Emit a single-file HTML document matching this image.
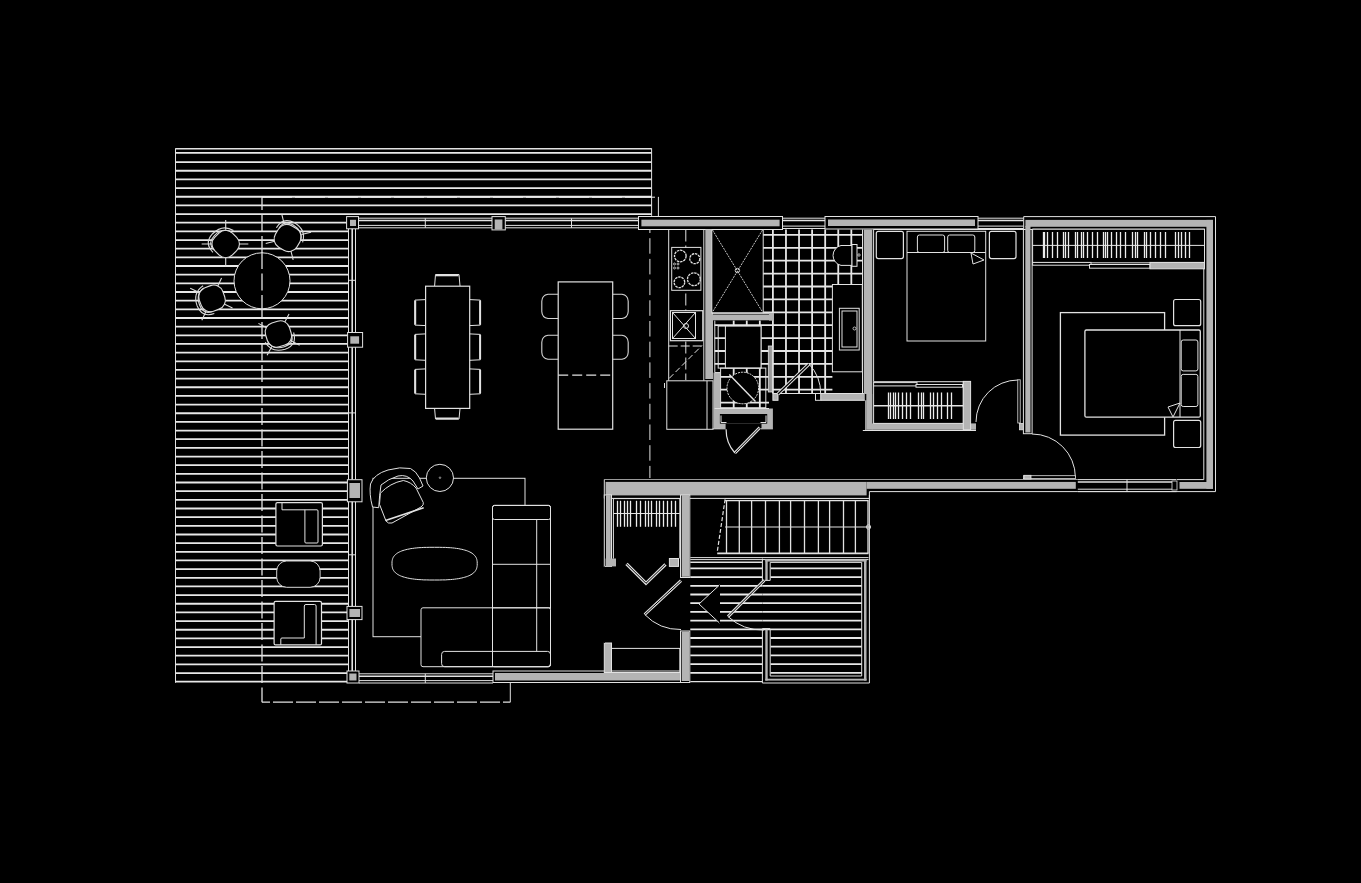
<!DOCTYPE html>
<html><head><meta charset="utf-8"><title>Floor plan</title>
<style>html,body{margin:0;padding:0;background:#000;overflow:hidden;width:1361px;height:883px}svg{display:block}</style>
</head><body>
<svg width="1361" height="883" viewBox="0 0 1361 883">
<rect x="0" y="0" width="1361" height="883" fill="#000"/>
<line x1="175.5" y1="148.3" x2="175.5" y2="682.8" stroke="#e2e2e2" stroke-width="1" stroke-linecap="butt"/>
<line x1="175.5" y1="148.8" x2="651.6" y2="148.8" stroke="#e2e2e2" stroke-width="1.5" stroke-linecap="butt"/>
<line x1="175.5" y1="152.9" x2="651.6" y2="152.9" stroke="#e8e8e8" stroke-width="1.8" stroke-linecap="butt"/>
<line x1="175.5" y1="162.1" x2="651.6" y2="162.1" stroke="#e8e8e8" stroke-width="1.8" stroke-linecap="butt"/>
<line x1="175.5" y1="170.76" x2="651.6" y2="170.76" stroke="#e8e8e8" stroke-width="1.8" stroke-linecap="butt"/>
<line x1="175.5" y1="179.42" x2="651.6" y2="179.42" stroke="#e8e8e8" stroke-width="1.8" stroke-linecap="butt"/>
<line x1="175.5" y1="188.08" x2="651.6" y2="188.08" stroke="#e8e8e8" stroke-width="1.8" stroke-linecap="butt"/>
<line x1="175.5" y1="196.74" x2="651.6" y2="196.74" stroke="#e8e8e8" stroke-width="1.8" stroke-linecap="butt"/>
<line x1="175.5" y1="205.4" x2="651.6" y2="205.4" stroke="#e8e8e8" stroke-width="1.8" stroke-linecap="butt"/>
<line x1="175.5" y1="214.06" x2="651.6" y2="214.06" stroke="#e8e8e8" stroke-width="1.8" stroke-linecap="butt"/>
<line x1="175.5" y1="222.72" x2="348.5" y2="222.72" stroke="#e8e8e8" stroke-width="1.8" stroke-linecap="butt"/>
<line x1="175.5" y1="231.38" x2="348.5" y2="231.38" stroke="#e8e8e8" stroke-width="1.8" stroke-linecap="butt"/>
<line x1="175.5" y1="240.04" x2="348.5" y2="240.04" stroke="#e8e8e8" stroke-width="1.8" stroke-linecap="butt"/>
<line x1="175.5" y1="248.7" x2="348.5" y2="248.7" stroke="#e8e8e8" stroke-width="1.8" stroke-linecap="butt"/>
<line x1="175.5" y1="257.36" x2="348.5" y2="257.36" stroke="#e8e8e8" stroke-width="1.8" stroke-linecap="butt"/>
<line x1="175.5" y1="266.02" x2="348.5" y2="266.02" stroke="#e8e8e8" stroke-width="1.8" stroke-linecap="butt"/>
<line x1="175.5" y1="274.68" x2="348.5" y2="274.68" stroke="#e8e8e8" stroke-width="1.8" stroke-linecap="butt"/>
<line x1="175.5" y1="283.34" x2="348.5" y2="283.34" stroke="#e8e8e8" stroke-width="1.8" stroke-linecap="butt"/>
<line x1="175.5" y1="292" x2="348.5" y2="292" stroke="#e8e8e8" stroke-width="1.8" stroke-linecap="butt"/>
<line x1="175.5" y1="300.66" x2="348.5" y2="300.66" stroke="#e8e8e8" stroke-width="1.8" stroke-linecap="butt"/>
<line x1="175.5" y1="309.32" x2="348.5" y2="309.32" stroke="#e8e8e8" stroke-width="1.8" stroke-linecap="butt"/>
<line x1="175.5" y1="317.98" x2="348.5" y2="317.98" stroke="#e8e8e8" stroke-width="1.8" stroke-linecap="butt"/>
<line x1="175.5" y1="326.64" x2="348.5" y2="326.64" stroke="#e8e8e8" stroke-width="1.8" stroke-linecap="butt"/>
<line x1="175.5" y1="335.3" x2="348.5" y2="335.3" stroke="#e8e8e8" stroke-width="1.8" stroke-linecap="butt"/>
<line x1="175.5" y1="343.96" x2="348.5" y2="343.96" stroke="#e8e8e8" stroke-width="1.8" stroke-linecap="butt"/>
<line x1="175.5" y1="352.62" x2="348.5" y2="352.62" stroke="#e8e8e8" stroke-width="1.8" stroke-linecap="butt"/>
<line x1="175.5" y1="361.28" x2="348.5" y2="361.28" stroke="#e8e8e8" stroke-width="1.8" stroke-linecap="butt"/>
<line x1="175.5" y1="369.94" x2="348.5" y2="369.94" stroke="#e8e8e8" stroke-width="1.8" stroke-linecap="butt"/>
<line x1="175.5" y1="378.6" x2="348.5" y2="378.6" stroke="#e8e8e8" stroke-width="1.8" stroke-linecap="butt"/>
<line x1="175.5" y1="387.26" x2="348.5" y2="387.26" stroke="#e8e8e8" stroke-width="1.8" stroke-linecap="butt"/>
<line x1="175.5" y1="395.92" x2="348.5" y2="395.92" stroke="#e8e8e8" stroke-width="1.8" stroke-linecap="butt"/>
<line x1="175.5" y1="404.58" x2="348.5" y2="404.58" stroke="#e8e8e8" stroke-width="1.8" stroke-linecap="butt"/>
<line x1="175.5" y1="413.24" x2="348.5" y2="413.24" stroke="#e8e8e8" stroke-width="1.8" stroke-linecap="butt"/>
<line x1="175.5" y1="421.9" x2="348.5" y2="421.9" stroke="#e8e8e8" stroke-width="1.8" stroke-linecap="butt"/>
<line x1="175.5" y1="430.56" x2="348.5" y2="430.56" stroke="#e8e8e8" stroke-width="1.8" stroke-linecap="butt"/>
<line x1="175.5" y1="439.22" x2="348.5" y2="439.22" stroke="#e8e8e8" stroke-width="1.8" stroke-linecap="butt"/>
<line x1="175.5" y1="447.88" x2="348.5" y2="447.88" stroke="#e8e8e8" stroke-width="1.8" stroke-linecap="butt"/>
<line x1="175.5" y1="456.54" x2="348.5" y2="456.54" stroke="#e8e8e8" stroke-width="1.8" stroke-linecap="butt"/>
<line x1="175.5" y1="465.2" x2="348.5" y2="465.2" stroke="#e8e8e8" stroke-width="1.8" stroke-linecap="butt"/>
<line x1="175.5" y1="473.86" x2="348.5" y2="473.86" stroke="#e8e8e8" stroke-width="1.8" stroke-linecap="butt"/>
<line x1="175.5" y1="482.52" x2="348.5" y2="482.52" stroke="#e8e8e8" stroke-width="1.8" stroke-linecap="butt"/>
<line x1="175.5" y1="491.18" x2="348.5" y2="491.18" stroke="#e8e8e8" stroke-width="1.8" stroke-linecap="butt"/>
<line x1="175.5" y1="499.84" x2="348.5" y2="499.84" stroke="#e8e8e8" stroke-width="1.8" stroke-linecap="butt"/>
<line x1="175.5" y1="508.5" x2="348.5" y2="508.5" stroke="#e8e8e8" stroke-width="1.8" stroke-linecap="butt"/>
<line x1="175.5" y1="517.16" x2="348.5" y2="517.16" stroke="#e8e8e8" stroke-width="1.8" stroke-linecap="butt"/>
<line x1="175.5" y1="525.82" x2="348.5" y2="525.82" stroke="#e8e8e8" stroke-width="1.8" stroke-linecap="butt"/>
<line x1="175.5" y1="534.48" x2="348.5" y2="534.48" stroke="#e8e8e8" stroke-width="1.8" stroke-linecap="butt"/>
<line x1="175.5" y1="543.14" x2="348.5" y2="543.14" stroke="#e8e8e8" stroke-width="1.8" stroke-linecap="butt"/>
<line x1="175.5" y1="551.8" x2="348.5" y2="551.8" stroke="#e8e8e8" stroke-width="1.8" stroke-linecap="butt"/>
<line x1="175.5" y1="560.46" x2="348.5" y2="560.46" stroke="#e8e8e8" stroke-width="1.8" stroke-linecap="butt"/>
<line x1="175.5" y1="569.12" x2="348.5" y2="569.12" stroke="#e8e8e8" stroke-width="1.8" stroke-linecap="butt"/>
<line x1="175.5" y1="577.78" x2="348.5" y2="577.78" stroke="#e8e8e8" stroke-width="1.8" stroke-linecap="butt"/>
<line x1="175.5" y1="586.44" x2="348.5" y2="586.44" stroke="#e8e8e8" stroke-width="1.8" stroke-linecap="butt"/>
<line x1="175.5" y1="595.1" x2="348.5" y2="595.1" stroke="#e8e8e8" stroke-width="1.8" stroke-linecap="butt"/>
<line x1="175.5" y1="603.76" x2="348.5" y2="603.76" stroke="#e8e8e8" stroke-width="1.8" stroke-linecap="butt"/>
<line x1="175.5" y1="612.42" x2="348.5" y2="612.42" stroke="#e8e8e8" stroke-width="1.8" stroke-linecap="butt"/>
<line x1="175.5" y1="621.08" x2="348.5" y2="621.08" stroke="#e8e8e8" stroke-width="1.8" stroke-linecap="butt"/>
<line x1="175.5" y1="629.74" x2="348.5" y2="629.74" stroke="#e8e8e8" stroke-width="1.8" stroke-linecap="butt"/>
<line x1="175.5" y1="638.4" x2="348.5" y2="638.4" stroke="#e8e8e8" stroke-width="1.8" stroke-linecap="butt"/>
<line x1="175.5" y1="647.06" x2="348.5" y2="647.06" stroke="#e8e8e8" stroke-width="1.8" stroke-linecap="butt"/>
<line x1="175.5" y1="655.72" x2="348.5" y2="655.72" stroke="#e8e8e8" stroke-width="1.8" stroke-linecap="butt"/>
<line x1="175.5" y1="664.38" x2="348.5" y2="664.38" stroke="#e8e8e8" stroke-width="1.8" stroke-linecap="butt"/>
<line x1="175.5" y1="673.04" x2="348.5" y2="673.04" stroke="#e8e8e8" stroke-width="1.8" stroke-linecap="butt"/>
<line x1="175.5" y1="681.7" x2="348.5" y2="681.7" stroke="#e8e8e8" stroke-width="1.8" stroke-linecap="butt"/>
<line x1="651.6" y1="148.3" x2="651.6" y2="215.8" stroke="#e2e2e2" stroke-width="1" stroke-linecap="butt"/>
<line x1="262" y1="197" x2="262" y2="702.2" stroke="#e2e2e2" stroke-width="1.3" stroke-dasharray="17 4.5" stroke-dashoffset="4" stroke-linecap="butt"/>
<line x1="262" y1="197.2" x2="658.4" y2="197.2" stroke="#f0f0f0" stroke-width="1" stroke-dasharray="30 3" stroke-linecap="butt"/>
<line x1="658.4" y1="197" x2="658.4" y2="216.5" stroke="#e2e2e2" stroke-width="1" stroke-linecap="butt"/>
<line x1="262" y1="702.2" x2="510.3" y2="702.2" stroke="#e2e2e2" stroke-width="1.2" stroke-dasharray="20 3" stroke-dashoffset="12" stroke-linecap="butt"/>
<line x1="510.3" y1="683" x2="510.3" y2="702.2" stroke="#e2e2e2" stroke-width="1" stroke-linecap="butt"/>
<rect x="346.6" y="216.6" width="11.9" height="12.2" fill="#000" stroke="#e2e2e2" stroke-width="1"/>
<rect x="350" y="219.8" width="6" height="6.2" fill="#b4b4b4"/>
<rect x="492" y="216.6" width="13.3" height="13.3" fill="#000" stroke="#e2e2e2" stroke-width="1"/>
<rect x="494.7" y="219.5" width="7.7" height="10" fill="#b4b4b4"/>
<line x1="358.5" y1="218.2" x2="492" y2="218.2" stroke="#e2e2e2" stroke-width="1" stroke-linecap="butt"/>
<line x1="358.5" y1="227.8" x2="492" y2="227.8" stroke="#e2e2e2" stroke-width="1" stroke-linecap="butt"/>
<line x1="358.5" y1="220.6" x2="492" y2="220.6" stroke="#e2e2e2" stroke-width="1.5" stroke-linecap="butt"/>
<line x1="358.5" y1="225.4" x2="492" y2="225.4" stroke="#e2e2e2" stroke-width="1" stroke-linecap="butt"/>
<line x1="425.3" y1="218.2" x2="425.3" y2="227.8" stroke="#e2e2e2" stroke-width="1" stroke-linecap="butt"/>
<line x1="505.3" y1="218.2" x2="638.5" y2="218.2" stroke="#e2e2e2" stroke-width="1" stroke-linecap="butt"/>
<line x1="505.3" y1="227.8" x2="638.5" y2="227.8" stroke="#e2e2e2" stroke-width="1" stroke-linecap="butt"/>
<line x1="505.3" y1="220.6" x2="638.5" y2="220.6" stroke="#e2e2e2" stroke-width="1.5" stroke-linecap="butt"/>
<line x1="505.3" y1="225.4" x2="638.5" y2="225.4" stroke="#e2e2e2" stroke-width="1" stroke-linecap="butt"/>
<line x1="571.5" y1="218.2" x2="571.5" y2="227.8" stroke="#e2e2e2" stroke-width="1" stroke-linecap="butt"/>
<rect x="638.5" y="216.5" width="144" height="13" fill="#000" stroke="#e2e2e2" stroke-width="1"/>
<rect x="641.4" y="219.7" width="138.2" height="6.6" fill="#b4b4b4"/>
<line x1="782.5" y1="218.2" x2="825" y2="218.2" stroke="#e2e2e2" stroke-width="1" stroke-linecap="butt"/>
<line x1="782.5" y1="228.5" x2="825" y2="228.5" stroke="#e2e2e2" stroke-width="1" stroke-linecap="butt"/>
<line x1="782.5" y1="220.6" x2="825" y2="220.6" stroke="#e2e2e2" stroke-width="1.5" stroke-linecap="butt"/>
<line x1="782.5" y1="226.1" x2="825" y2="226.1" stroke="#e2e2e2" stroke-width="1" stroke-linecap="butt"/>
<rect x="825" y="216.5" width="153" height="12.5" fill="#000" stroke="#e2e2e2" stroke-width="1"/>
<rect x="828" y="219.5" width="147" height="6.5" fill="#b4b4b4"/>
<line x1="978" y1="218.2" x2="1023.5" y2="218.2" stroke="#e2e2e2" stroke-width="1" stroke-linecap="butt"/>
<line x1="978" y1="228.5" x2="1023.5" y2="228.5" stroke="#e2e2e2" stroke-width="1" stroke-linecap="butt"/>
<line x1="978" y1="220.6" x2="1023.5" y2="220.6" stroke="#e2e2e2" stroke-width="1.5" stroke-linecap="butt"/>
<line x1="978" y1="226.1" x2="1023.5" y2="226.1" stroke="#e2e2e2" stroke-width="1" stroke-linecap="butt"/>
<line x1="1023.7" y1="216.6" x2="1215.5" y2="216.6" stroke="#e2e2e2" stroke-width="1" stroke-linecap="butt"/>
<line x1="1215.5" y1="216.6" x2="1215.5" y2="491.6" stroke="#e2e2e2" stroke-width="1" stroke-linecap="butt"/>
<line x1="1077.8" y1="491.6" x2="1215.5" y2="491.6" stroke="#e2e2e2" stroke-width="1" stroke-linecap="butt"/>
<line x1="1023.7" y1="216.6" x2="1023.7" y2="229.5" stroke="#e2e2e2" stroke-width="1" stroke-linecap="butt"/>
<rect x="1025.4" y="219.9" width="187.6" height="6.9" fill="#b4b4b4"/>
<rect x="1206.4" y="219.9" width="6.6" height="268.9" fill="#b4b4b4"/>
<line x1="1032.6" y1="229.2" x2="1204.5" y2="229.2" stroke="#e2e2e2" stroke-width="1" stroke-linecap="butt"/>
<line x1="1203.8" y1="229.2" x2="1203.8" y2="479.6" stroke="#e2e2e2" stroke-width="1" stroke-linecap="butt"/>
<line x1="348.5" y1="228.8" x2="348.5" y2="332.5" stroke="#e2e2e2" stroke-width="1" stroke-linecap="butt"/>
<line x1="355.5" y1="228.8" x2="355.5" y2="332.5" stroke="#e2e2e2" stroke-width="1" stroke-linecap="butt"/>
<line x1="352.2" y1="228.8" x2="352.2" y2="332.5" stroke="#e2e2e2" stroke-width="1.6" stroke-linecap="butt"/>
<line x1="348.5" y1="280.3" x2="355.5" y2="280.3" stroke="#e2e2e2" stroke-width="1" stroke-linecap="butt"/>
<rect x="347.6" y="332.5" width="15" height="14.7" fill="#000" stroke="#e2e2e2" stroke-width="1"/>
<rect x="350.3" y="336.3" width="8.8" height="7.4" fill="#b4b4b4"/>
<line x1="348.5" y1="347.2" x2="348.5" y2="479.7" stroke="#e2e2e2" stroke-width="1" stroke-linecap="butt"/>
<line x1="355.5" y1="347.2" x2="355.5" y2="479.7" stroke="#e2e2e2" stroke-width="1" stroke-linecap="butt"/>
<line x1="352.2" y1="347.2" x2="352.2" y2="479.7" stroke="#e2e2e2" stroke-width="1.6" stroke-linecap="butt"/>
<line x1="348.5" y1="412.9" x2="355.5" y2="412.9" stroke="#e2e2e2" stroke-width="1" stroke-linecap="butt"/>
<rect x="347.4" y="479.7" width="14.6" height="22.1" fill="#000" stroke="#e2e2e2" stroke-width="1"/>
<rect x="349.4" y="483" width="10.6" height="15" fill="#b4b4b4"/>
<line x1="348.5" y1="501.8" x2="348.5" y2="606.4" stroke="#e2e2e2" stroke-width="1" stroke-linecap="butt"/>
<line x1="355.5" y1="501.8" x2="355.5" y2="606.4" stroke="#e2e2e2" stroke-width="1" stroke-linecap="butt"/>
<line x1="352.2" y1="501.8" x2="352.2" y2="606.4" stroke="#e2e2e2" stroke-width="1.6" stroke-linecap="butt"/>
<line x1="348.5" y1="554.8" x2="355.5" y2="554.8" stroke="#e2e2e2" stroke-width="1" stroke-linecap="butt"/>
<rect x="347" y="606.4" width="15" height="13.2" fill="#000" stroke="#e2e2e2" stroke-width="1"/>
<rect x="349.4" y="609" width="10.6" height="8" fill="#b4b4b4"/>
<line x1="348.5" y1="619.6" x2="348.5" y2="671" stroke="#e2e2e2" stroke-width="1" stroke-linecap="butt"/>
<line x1="355.5" y1="619.6" x2="355.5" y2="671" stroke="#e2e2e2" stroke-width="1" stroke-linecap="butt"/>
<line x1="352.2" y1="619.6" x2="352.2" y2="671" stroke="#e2e2e2" stroke-width="1.6" stroke-linecap="butt"/>
<rect x="347" y="671" width="12" height="12" fill="#000" stroke="#e2e2e2" stroke-width="1"/>
<rect x="349.3" y="673.5" width="7.2" height="7" fill="#b4b4b4"/>
<line x1="359" y1="673.8" x2="493" y2="673.8" stroke="#e2e2e2" stroke-width="1" stroke-linecap="butt"/>
<line x1="359" y1="683" x2="493" y2="683" stroke="#e2e2e2" stroke-width="1" stroke-linecap="butt"/>
<line x1="359" y1="676.2" x2="493" y2="676.2" stroke="#e2e2e2" stroke-width="1.5" stroke-linecap="butt"/>
<line x1="359" y1="680.6" x2="493" y2="680.6" stroke="#e2e2e2" stroke-width="1" stroke-linecap="butt"/>
<line x1="425.3" y1="673.8" x2="425.3" y2="683" stroke="#e2e2e2" stroke-width="1" stroke-linecap="butt"/>
<rect x="493" y="671" width="196" height="11.5" fill="#000" stroke="#e2e2e2" stroke-width="1"/>
<rect x="495" y="673" width="192" height="7.5" fill="#b4b4b4"/>
<line x1="604.3" y1="479.5" x2="1077.8" y2="479.5" stroke="#9a9a9a" stroke-width="1" stroke-linecap="butt"/>
<rect x="605.6" y="481.9" width="261" height="13.5" fill="#b4b4b4"/>
<rect x="866.6" y="481.9" width="209.2" height="6.9" fill="#b4b4b4"/>
<line x1="604.3" y1="479.5" x2="604.3" y2="498.4" stroke="#e2e2e2" stroke-width="1" stroke-linecap="butt"/>
<line x1="604.3" y1="498.4" x2="869.4" y2="498.4" stroke="#e2e2e2" stroke-width="1" stroke-linecap="butt"/>
<line x1="869.4" y1="491.6" x2="869.4" y2="498.4" stroke="#e2e2e2" stroke-width="1" stroke-linecap="butt"/>
<line x1="869.4" y1="491.6" x2="1077.8" y2="491.6" stroke="#e2e2e2" stroke-width="1" stroke-linecap="butt"/>
<line x1="1077.8" y1="479.6" x2="1176.5" y2="479.6" stroke="#e2e2e2" stroke-width="1" stroke-linecap="butt"/>
<line x1="1077.8" y1="491.6" x2="1176.5" y2="491.6" stroke="#e2e2e2" stroke-width="1" stroke-linecap="butt"/>
<line x1="1077.8" y1="482" x2="1176.5" y2="482" stroke="#e2e2e2" stroke-width="1.5" stroke-linecap="butt"/>
<line x1="1077.8" y1="489.2" x2="1176.5" y2="489.2" stroke="#e2e2e2" stroke-width="1" stroke-linecap="butt"/>
<line x1="1127" y1="479.6" x2="1127" y2="491.6" stroke="#e2e2e2" stroke-width="1" stroke-linecap="butt"/>
<rect x="1179.5" y="482" width="33.5" height="6.8" fill="#b4b4b4"/>
<line x1="1177" y1="479.6" x2="1203.8" y2="479.6" stroke="#e2e2e2" stroke-width="1" stroke-linecap="butt"/>
<rect x="1172" y="481" width="5" height="9" fill="#000" stroke="#e2e2e2" stroke-width="0.8"/>
<rect x="604.3" y="495" width="7.2" height="71.4" fill="#000" stroke="#e2e2e2" stroke-width="1"/>
<rect x="606" y="495" width="4.8" height="70" fill="#b4b4b4"/>
<rect x="605.6" y="558.5" width="10.4" height="7.9" fill="#b4b4b4"/>
<rect x="680.5" y="495" width="9.3" height="82.5" fill="#000" stroke="#e2e2e2" stroke-width="1"/>
<rect x="681.7" y="495" width="7.3" height="81.8" fill="#b4b4b4"/>
<rect x="669.4" y="558.5" width="9.1" height="7.9" fill="#b4b4b4" stroke="#e2e2e2" stroke-width="1"/>
<line x1="613.4" y1="498.6" x2="679.8" y2="498.6" stroke="#e2e2e2" stroke-width="1" stroke-linecap="butt"/>
<line x1="613.4" y1="498.6" x2="613.4" y2="558.5" stroke="#e2e2e2" stroke-width="1" stroke-linecap="butt"/>
<line x1="679.8" y1="498.6" x2="679.8" y2="558.5" stroke="#e2e2e2" stroke-width="1" stroke-linecap="butt"/>
<line x1="613.4" y1="513.5" x2="679.8" y2="513.5" stroke="#e2e2e2" stroke-width="1" stroke-linecap="butt"/>
<line x1="617.5" y1="500.8" x2="617.5" y2="526.8" stroke="#ececec" stroke-width="1.3" stroke-linecap="butt"/>
<line x1="620.5" y1="500.8" x2="620.5" y2="526.8" stroke="#ececec" stroke-width="1.3" stroke-linecap="butt"/>
<line x1="624.5" y1="500.8" x2="624.5" y2="526.8" stroke="#ececec" stroke-width="1.3" stroke-linecap="butt"/>
<line x1="627.5" y1="500.8" x2="627.5" y2="526.8" stroke="#ececec" stroke-width="1.3" stroke-linecap="butt"/>
<line x1="630.5" y1="500.8" x2="630.5" y2="526.8" stroke="#ececec" stroke-width="1.3" stroke-linecap="butt"/>
<line x1="636.5" y1="500.8" x2="636.5" y2="526.8" stroke="#ececec" stroke-width="1.3" stroke-linecap="butt"/>
<line x1="640.5" y1="500.8" x2="640.5" y2="526.8" stroke="#ececec" stroke-width="1.3" stroke-linecap="butt"/>
<line x1="645.5" y1="500.8" x2="645.5" y2="526.8" stroke="#ececec" stroke-width="1.3" stroke-linecap="butt"/>
<line x1="648.5" y1="500.8" x2="648.5" y2="526.8" stroke="#ececec" stroke-width="1.3" stroke-linecap="butt"/>
<line x1="651.5" y1="500.8" x2="651.5" y2="526.8" stroke="#ececec" stroke-width="1.3" stroke-linecap="butt"/>
<line x1="656.5" y1="500.8" x2="656.5" y2="526.8" stroke="#ececec" stroke-width="1.3" stroke-linecap="butt"/>
<line x1="659.5" y1="500.8" x2="659.5" y2="526.8" stroke="#ececec" stroke-width="1.3" stroke-linecap="butt"/>
<line x1="663.5" y1="500.8" x2="663.5" y2="526.8" stroke="#ececec" stroke-width="1.3" stroke-linecap="butt"/>
<line x1="667.5" y1="500.8" x2="667.5" y2="526.8" stroke="#ececec" stroke-width="1.3" stroke-linecap="butt"/>
<line x1="671.5" y1="500.8" x2="671.5" y2="526.8" stroke="#ececec" stroke-width="1.3" stroke-linecap="butt"/>
<line x1="675.5" y1="500.8" x2="675.5" y2="526.8" stroke="#ececec" stroke-width="1.3" stroke-linecap="butt"/>
<path d="M626.5,563.8 L646,583.3 L665.5,564.3" stroke="#e2e2e2" stroke-width="3.2" fill="none" />
<path d="M626.5,563.8 L646,583.3 L665.5,564.3" stroke="#000" stroke-width="1" fill="none" />
<rect x="680.5" y="631" width="9.3" height="51.5" fill="#000" stroke="#e2e2e2" stroke-width="1"/>
<rect x="681.7" y="631.5" width="7.3" height="49.5" fill="#b4b4b4"/>
<path d="M681,580.7 L644.7,614.5" stroke="#e2e2e2" stroke-width="3" fill="none" />
<path d="M681,580.7 L644.7,614.5" stroke="#000" stroke-width="1" fill="none" />
<path d="M644.7,614.5 A49 49 0 0 0 681,629.5" stroke="#e2e2e2" stroke-width="1" fill="none" />
<rect x="604.3" y="643" width="7.2" height="29.5" fill="#b4b4b4" stroke="#e2e2e2" stroke-width="1"/>
<rect x="611.5" y="648.4" width="68.3" height="24.1" fill="none" stroke="#e2e2e2" stroke-width="1"/>
<line x1="604.3" y1="566.4" x2="604.3" y2="643" stroke="#000" stroke-width="1" stroke-linecap="butt"/>
<line x1="725.1" y1="498.6" x2="868.5" y2="498.6" stroke="#e2e2e2" stroke-width="0.8" stroke-linecap="butt"/>
<line x1="725.1" y1="500.6" x2="868.5" y2="500.6" stroke="#e2e2e2" stroke-width="1.4" stroke-linecap="butt"/>
<line x1="725.1" y1="527" x2="871" y2="527" stroke="#e2e2e2" stroke-width="1.2" stroke-linecap="butt"/>
<line x1="717.2" y1="553.4" x2="868.5" y2="553.4" stroke="#e2e2e2" stroke-width="1.6" stroke-linecap="butt"/>
<line x1="690.3" y1="557.6" x2="868.5" y2="557.6" stroke="#e2e2e2" stroke-width="1" stroke-linecap="butt"/>
<line x1="690.3" y1="559.6" x2="868.5" y2="559.6" stroke="#e2e2e2" stroke-width="1" stroke-linecap="butt"/>
<line x1="726.5" y1="500.6" x2="726.5" y2="553.4" stroke="#e2e2e2" stroke-width="1.3" stroke-linecap="butt"/>
<line x1="739.3" y1="500.6" x2="739.3" y2="553.4" stroke="#e2e2e2" stroke-width="1.3" stroke-linecap="butt"/>
<line x1="751.6" y1="500.6" x2="751.6" y2="553.4" stroke="#e2e2e2" stroke-width="1.3" stroke-linecap="butt"/>
<line x1="765.5" y1="500.6" x2="765.5" y2="553.4" stroke="#e2e2e2" stroke-width="1.3" stroke-linecap="butt"/>
<line x1="779.4" y1="500.6" x2="779.4" y2="553.4" stroke="#e2e2e2" stroke-width="1.3" stroke-linecap="butt"/>
<line x1="790.6" y1="500.6" x2="790.6" y2="553.4" stroke="#e2e2e2" stroke-width="1.3" stroke-linecap="butt"/>
<line x1="804.5" y1="500.6" x2="804.5" y2="553.4" stroke="#e2e2e2" stroke-width="1.3" stroke-linecap="butt"/>
<line x1="818.4" y1="500.6" x2="818.4" y2="553.4" stroke="#e2e2e2" stroke-width="1.3" stroke-linecap="butt"/>
<line x1="829.6" y1="500.6" x2="829.6" y2="553.4" stroke="#e2e2e2" stroke-width="1.3" stroke-linecap="butt"/>
<line x1="843.5" y1="500.6" x2="843.5" y2="553.4" stroke="#e2e2e2" stroke-width="1.3" stroke-linecap="butt"/>
<line x1="855.4" y1="500.6" x2="855.4" y2="553.4" stroke="#e2e2e2" stroke-width="1.3" stroke-linecap="butt"/>
<line x1="868" y1="500.6" x2="868" y2="553.4" stroke="#e2e2e2" stroke-width="1.3" stroke-linecap="butt"/>
<path d="M725.1,499.3 L717.2,552.2" stroke="#e2e2e2" stroke-width="1.2" fill="none" stroke-dasharray="4 2" />
<circle cx="868.5" cy="527" r="2.2" stroke="#e2e2e2" stroke-width="0.8" fill="none"/>
<line x1="690.3" y1="568.4" x2="762.4" y2="568.4" stroke="#e8e8e8" stroke-width="1.8" stroke-linecap="butt"/>
<line x1="770.5" y1="568.4" x2="861.7" y2="568.4" stroke="#e8e8e8" stroke-width="1.8" stroke-linecap="butt"/>
<line x1="690.3" y1="577.1" x2="762.4" y2="577.1" stroke="#e8e8e8" stroke-width="1.8" stroke-linecap="butt"/>
<line x1="770.5" y1="577.1" x2="861.7" y2="577.1" stroke="#e8e8e8" stroke-width="1.8" stroke-linecap="butt"/>
<line x1="690.3" y1="585.8" x2="762.4" y2="585.8" stroke="#e8e8e8" stroke-width="1.8" stroke-linecap="butt"/>
<line x1="762.4" y1="585.8" x2="861.7" y2="585.8" stroke="#e8e8e8" stroke-width="1.8" stroke-linecap="butt"/>
<line x1="690.3" y1="594.5" x2="762.4" y2="594.5" stroke="#e8e8e8" stroke-width="1.8" stroke-linecap="butt"/>
<line x1="762.4" y1="594.5" x2="861.7" y2="594.5" stroke="#e8e8e8" stroke-width="1.8" stroke-linecap="butt"/>
<line x1="690.3" y1="603.2" x2="762.4" y2="603.2" stroke="#e8e8e8" stroke-width="1.8" stroke-linecap="butt"/>
<line x1="762.4" y1="603.2" x2="861.7" y2="603.2" stroke="#e8e8e8" stroke-width="1.8" stroke-linecap="butt"/>
<line x1="690.3" y1="611.9" x2="762.4" y2="611.9" stroke="#e8e8e8" stroke-width="1.8" stroke-linecap="butt"/>
<line x1="762.4" y1="611.9" x2="861.7" y2="611.9" stroke="#e8e8e8" stroke-width="1.8" stroke-linecap="butt"/>
<line x1="690.3" y1="620.6" x2="762.4" y2="620.6" stroke="#e8e8e8" stroke-width="1.8" stroke-linecap="butt"/>
<line x1="762.4" y1="620.6" x2="861.7" y2="620.6" stroke="#e8e8e8" stroke-width="1.8" stroke-linecap="butt"/>
<line x1="690.3" y1="629.3" x2="762.4" y2="629.3" stroke="#e8e8e8" stroke-width="1.8" stroke-linecap="butt"/>
<line x1="762.4" y1="629.3" x2="861.7" y2="629.3" stroke="#e8e8e8" stroke-width="1.8" stroke-linecap="butt"/>
<line x1="690.3" y1="638" x2="762.4" y2="638" stroke="#e8e8e8" stroke-width="1.8" stroke-linecap="butt"/>
<line x1="770.5" y1="638" x2="861.7" y2="638" stroke="#e8e8e8" stroke-width="1.8" stroke-linecap="butt"/>
<line x1="690.3" y1="646.7" x2="762.4" y2="646.7" stroke="#e8e8e8" stroke-width="1.8" stroke-linecap="butt"/>
<line x1="770.5" y1="646.7" x2="861.7" y2="646.7" stroke="#e8e8e8" stroke-width="1.8" stroke-linecap="butt"/>
<line x1="690.3" y1="655.4" x2="762.4" y2="655.4" stroke="#e8e8e8" stroke-width="1.8" stroke-linecap="butt"/>
<line x1="770.5" y1="655.4" x2="861.7" y2="655.4" stroke="#e8e8e8" stroke-width="1.8" stroke-linecap="butt"/>
<line x1="690.3" y1="664.1" x2="762.4" y2="664.1" stroke="#e8e8e8" stroke-width="1.8" stroke-linecap="butt"/>
<line x1="770.5" y1="664.1" x2="861.7" y2="664.1" stroke="#e8e8e8" stroke-width="1.8" stroke-linecap="butt"/>
<line x1="690.3" y1="672.8" x2="762.4" y2="672.8" stroke="#e8e8e8" stroke-width="1.8" stroke-linecap="butt"/>
<line x1="770.5" y1="672.8" x2="861.7" y2="672.8" stroke="#e8e8e8" stroke-width="1.8" stroke-linecap="butt"/>
<line x1="690.3" y1="562.3" x2="762.4" y2="562.3" stroke="#e2e2e2" stroke-width="1.4" stroke-linecap="butt"/>
<line x1="690.3" y1="681.6" x2="762.4" y2="681.6" stroke="#e2e2e2" stroke-width="1.4" stroke-linecap="butt"/>
<path d="M762.4,558.6 V580.4 M762.4,628.6 V683 H869.4 V495" stroke="#e2e2e2" stroke-width="1" fill="none" />
<rect x="765.3" y="559.5" width="2.4" height="20.9" fill="#b4b4b4"/>
<rect x="765.3" y="629.6" width="2.4" height="51" fill="#b4b4b4"/>
<rect x="765.3" y="678.7" width="101.2" height="1.9" fill="#b4b4b4"/>
<rect x="864" y="559.5" width="2.5" height="121.1" fill="#b4b4b4"/>
<rect x="765.3" y="559.8" width="101.2" height="1.8" fill="#b4b4b4"/>
<path d="M770.2,580.4 V562.4 H861.7 V676 H770.2 V629" stroke="#e2e2e2" stroke-width="1" fill="none" />
<path d="M762.4,580.4 H770.2 M762.4,628.6 H770.2" stroke="#e2e2e2" stroke-width="1" fill="none" />
<path d="M764.3,580.4 L728,616.6" stroke="#e2e2e2" stroke-width="3" fill="none" />
<path d="M764.3,580.4 L728,616.6" stroke="#000" stroke-width="1" fill="none" />
<path d="M728,616.6 A51 51 0 0 0 764,630" stroke="#e2e2e2" stroke-width="1" fill="none" />
<path d="M719.5,585 L699,604 L719.5,623 Z" stroke="none" stroke-width="1" fill="#000" />
<path d="M719.5,585 L699,604 L719.5,623" stroke="#e2e2e2" stroke-width="1" fill="none" />
<line x1="719.5" y1="585" x2="719.5" y2="623" stroke="#000" stroke-width="1" stroke-linecap="butt"/>
<line x1="649.9" y1="229.5" x2="649.9" y2="478" stroke="#e2e2e2" stroke-width="1" stroke-dasharray="15.5 5.2" stroke-dashoffset="12" stroke-linecap="butt"/>
<line x1="668.7" y1="229.5" x2="668.7" y2="380.8" stroke="#e2e2e2" stroke-width="1" stroke-linecap="butt"/>
<line x1="685.8" y1="229.5" x2="685.8" y2="380" stroke="#e2e2e2" stroke-width="1" stroke-dasharray="12 4" stroke-linecap="butt"/>
<line x1="703.8" y1="229.5" x2="703.8" y2="380.8" stroke="#e2e2e2" stroke-width="1" stroke-linecap="butt"/>
<rect x="705.3" y="229.5" width="7.7" height="149.5" fill="#b4b4b4"/>
<rect x="671.7" y="247.4" width="29.2" height="42.9" fill="#000" stroke="#e2e2e2" stroke-width="1"/>
<circle cx="680.3" cy="256" r="5.8" stroke="#e2e2e2" stroke-width="1.3" fill="none" stroke-dasharray="2.5 0.8"/>
<circle cx="694.8" cy="258.7" r="5" stroke="#e2e2e2" stroke-width="1.3" fill="none" stroke-dasharray="2.5 0.8"/>
<circle cx="679.4" cy="282.3" r="5.3" stroke="#e2e2e2" stroke-width="1.3" fill="none" stroke-dasharray="2.5 0.8"/>
<circle cx="693.9" cy="279.2" r="6.4" stroke="#e2e2e2" stroke-width="1.3" fill="none" stroke-dasharray="2.5 0.8"/>
<circle cx="674.5" cy="264" r="1" stroke="#e2e2e2" stroke-width="0.8" fill="none"/>
<circle cx="678" cy="264" r="1" stroke="#e2e2e2" stroke-width="0.8" fill="none"/>
<circle cx="674.5" cy="268" r="1" stroke="#e2e2e2" stroke-width="0.8" fill="none"/>
<circle cx="678" cy="268" r="1" stroke="#e2e2e2" stroke-width="0.8" fill="none"/>
<rect x="670.4" y="310.7" width="32.4" height="30" fill="#000" stroke="#e2e2e2" stroke-width="1.2"/>
<rect x="672.5" y="312.5" width="23" height="26" fill="none" stroke="#e2e2e2" stroke-width="1"/>
<line x1="672.5" y1="312.5" x2="695.5" y2="338.5" stroke="#e2e2e2" stroke-width="1" stroke-linecap="butt"/>
<line x1="695.5" y1="312.5" x2="672.5" y2="338.5" stroke="#e2e2e2" stroke-width="1" stroke-linecap="butt"/>
<circle cx="686" cy="326" r="2.5" stroke="#e2e2e2" stroke-width="1" fill="none"/>
<line x1="668.7" y1="346" x2="702.8" y2="346" stroke="#e2e2e2" stroke-width="1" stroke-dasharray="9 3" stroke-linecap="butt"/>
<line x1="669.2" y1="378.4" x2="702" y2="345.5" stroke="#e2e2e2" stroke-width="1" stroke-dasharray="6 3" stroke-linecap="butt"/>
<rect x="666.8" y="380.8" width="46.2" height="48.5" fill="#000" stroke="#e2e2e2" stroke-width="1"/>
<line x1="707" y1="380.8" x2="707" y2="429.3" stroke="#e2e2e2" stroke-width="1" stroke-linecap="butt"/>
<line x1="664.5" y1="383" x2="664.5" y2="388" stroke="#e2e2e2" stroke-width="1" stroke-linecap="butt"/>
<rect x="711.8" y="229.5" width="51.4" height="83.3" fill="#000" stroke="#e2e2e2" stroke-width="1"/>
<line x1="712.5" y1="230" x2="762.5" y2="312" stroke="#d8d8d8" stroke-width="0.9" stroke-dasharray="2 1" stroke-linecap="butt"/>
<line x1="762.5" y1="230" x2="712.5" y2="312" stroke="#d8d8d8" stroke-width="0.9" stroke-dasharray="2 1" stroke-linecap="butt"/>
<circle cx="737.4" cy="270.5" r="2.2" stroke="#e2e2e2" stroke-width="0.9" fill="none"/>
<rect x="711.8" y="314.5" width="60.9" height="5.8" fill="#b4b4b4"/>
<line x1="711.8" y1="313.3" x2="772.7" y2="313.3" stroke="#e2e2e2" stroke-width="1" stroke-linecap="butt"/>
<line x1="733.69" y1="320.6" x2="733.69" y2="408.5" stroke="#e6e6e6" stroke-width="1.8" stroke-linecap="butt"/>
<line x1="746.76" y1="320.6" x2="746.76" y2="408.5" stroke="#e6e6e6" stroke-width="1.8" stroke-linecap="butt"/>
<line x1="759.83" y1="320.6" x2="759.83" y2="408.5" stroke="#e6e6e6" stroke-width="1.8" stroke-linecap="butt"/>
<line x1="772.9" y1="229.5" x2="772.9" y2="393.5" stroke="#e6e6e6" stroke-width="1.8" stroke-linecap="butt"/>
<line x1="785.97" y1="229.5" x2="785.97" y2="393.5" stroke="#e6e6e6" stroke-width="1.8" stroke-linecap="butt"/>
<line x1="799.04" y1="229.5" x2="799.04" y2="393.5" stroke="#e6e6e6" stroke-width="1.8" stroke-linecap="butt"/>
<line x1="812.11" y1="229.5" x2="812.11" y2="393.5" stroke="#e6e6e6" stroke-width="1.8" stroke-linecap="butt"/>
<line x1="825.18" y1="229.5" x2="825.18" y2="393.5" stroke="#e6e6e6" stroke-width="1.8" stroke-linecap="butt"/>
<line x1="838.25" y1="229.5" x2="838.25" y2="285" stroke="#e6e6e6" stroke-width="1.8" stroke-linecap="butt"/>
<line x1="851.32" y1="229.5" x2="851.32" y2="285" stroke="#e6e6e6" stroke-width="1.8" stroke-linecap="butt"/>
<line x1="763.2" y1="234.9" x2="862.5" y2="234.9" stroke="#e6e6e6" stroke-width="1.8" stroke-linecap="butt"/>
<line x1="763.2" y1="247.8" x2="862.5" y2="247.8" stroke="#e6e6e6" stroke-width="1.8" stroke-linecap="butt"/>
<line x1="763.2" y1="260.7" x2="862.5" y2="260.7" stroke="#e6e6e6" stroke-width="1.8" stroke-linecap="butt"/>
<line x1="763.2" y1="273.6" x2="862.5" y2="273.6" stroke="#e6e6e6" stroke-width="1.8" stroke-linecap="butt"/>
<line x1="763.2" y1="286.5" x2="832.4" y2="286.5" stroke="#e6e6e6" stroke-width="1.8" stroke-linecap="butt"/>
<line x1="763.2" y1="299.4" x2="832.4" y2="299.4" stroke="#e6e6e6" stroke-width="1.8" stroke-linecap="butt"/>
<line x1="763.2" y1="312.3" x2="832.4" y2="312.3" stroke="#e6e6e6" stroke-width="1.8" stroke-linecap="butt"/>
<line x1="714.6" y1="325.2" x2="832.4" y2="325.2" stroke="#e6e6e6" stroke-width="1.8" stroke-linecap="butt"/>
<line x1="714.6" y1="338.1" x2="832.4" y2="338.1" stroke="#e6e6e6" stroke-width="1.8" stroke-linecap="butt"/>
<line x1="714.6" y1="351" x2="832.4" y2="351" stroke="#e6e6e6" stroke-width="1.8" stroke-linecap="butt"/>
<line x1="714.6" y1="363.9" x2="832.4" y2="363.9" stroke="#e6e6e6" stroke-width="1.8" stroke-linecap="butt"/>
<line x1="720.4" y1="376.8" x2="832.4" y2="376.8" stroke="#e6e6e6" stroke-width="1.8" stroke-linecap="butt"/>
<line x1="720.4" y1="389.7" x2="832.4" y2="389.7" stroke="#e6e6e6" stroke-width="1.8" stroke-linecap="butt"/>
<line x1="720.4" y1="402.6" x2="769" y2="402.6" stroke="#e6e6e6" stroke-width="1.8" stroke-linecap="butt"/>
<rect x="713.5" y="372.6" width="6.9" height="55.8" fill="#b4b4b4"/>
<line x1="714.8" y1="320.6" x2="714.8" y2="372.6" stroke="#e2e2e2" stroke-width="1" stroke-linecap="butt"/>
<line x1="714.8" y1="372.6" x2="720.2" y2="372.6" stroke="#e2e2e2" stroke-width="1" stroke-linecap="butt"/>
<rect x="718.2" y="326.1" width="42.8" height="42" fill="none" stroke="#e2e2e2" stroke-width="1"/>
<rect x="725.4" y="326.1" width="35.6" height="42" fill="#000" stroke="#e2e2e2" stroke-width="1"/>
<rect x="720.6" y="368.1" width="45.2" height="39.6" fill="none" stroke="#e2e2e2" stroke-width="1"/>
<circle cx="742.8" cy="388" r="15.8" stroke="#e2e2e2" stroke-width="1" fill="#000" stroke-dasharray="2 1"/>
<line x1="729.3" y1="374.5" x2="755.5" y2="401.4" stroke="#e2e2e2" stroke-width="1.4" stroke-linecap="butt"/>
<rect x="768.3" y="346" width="4" height="46" fill="#9a9a9a" stroke="#e2e2e2" stroke-width="0.8"/>
<rect x="714.3" y="408.5" width="58.6" height="19.9" fill="#b4b4b4"/>
<line x1="714.6" y1="408.5" x2="769" y2="408.5" stroke="#e2e2e2" stroke-width="1" stroke-linecap="butt"/>
<rect x="719.9" y="414" width="47.3" height="9.6" fill="#000"/>
<rect x="725.6" y="423.6" width="35.9" height="5.9" fill="#000"/>
<path d="M721,415.5 V422.5 H726.5 M766,415.5 V422.5 H760.5" stroke="#e2e2e2" stroke-width="1" fill="none" />
<line x1="712.7" y1="428.8" x2="725.5" y2="428.8" stroke="#e2e2e2" stroke-width="1" stroke-linecap="butt"/>
<line x1="761" y1="428.8" x2="772.9" y2="428.8" stroke="#e2e2e2" stroke-width="1" stroke-linecap="butt"/>
<path d="M759.8,427.6 L734.9,453" stroke="#e2e2e2" stroke-width="3" fill="none" />
<path d="M759.8,427.6 L734.9,453" stroke="#000" stroke-width="1" fill="none" />
<path d="M734.9,453 A35 35 0 0 1 726.1,429.3" stroke="#e2e2e2" stroke-width="1.2" fill="none" />
<rect x="769" y="313" width="5" height="7.6" fill="#b4b4b4"/>
<path d="M852,245.5 L841,245.5 A10.2 10.2 0 0 0 841,265.4 L852,265.4 Z" stroke="#e2e2e2" stroke-width="1" fill="#000" />
<rect x="852" y="244.5" width="5" height="21.8" fill="#000" stroke="#e2e2e2" stroke-width="1"/>
<circle cx="859" cy="255" r="1.2" stroke="#e2e2e2" stroke-width="0.8" fill="none"/>
<rect x="832.4" y="284.5" width="29.9" height="87.3" fill="#000" stroke="#e2e2e2" stroke-width="1"/>
<rect x="839.4" y="308.3" width="19.8" height="41.7" fill="#000" stroke="#e2e2e2" stroke-width="1"/>
<rect x="842" y="311" width="15" height="36" fill="none" stroke="#e2e2e2" stroke-width="1"/>
<circle cx="854.5" cy="328.5" r="1.5" stroke="#e2e2e2" stroke-width="0.8" fill="none"/>
<rect x="820.7" y="393.5" width="44.1" height="6.8" fill="#b4b4b4"/>
<line x1="773.5" y1="393.5" x2="864.8" y2="393.5" stroke="#e2e2e2" stroke-width="1" stroke-linecap="butt"/>
<line x1="820.7" y1="400.3" x2="864.8" y2="400.3" stroke="#e2e2e2" stroke-width="1" stroke-linecap="butt"/>
<rect x="772.9" y="393.5" width="5.1" height="6.8" fill="#b4b4b4" stroke="#e2e2e2" stroke-width="1"/>
<rect x="815.5" y="393.5" width="5.2" height="6.8" fill="#000" stroke="#e2e2e2" stroke-width="1"/>
<path d="M778,394 L809,364" stroke="#e2e2e2" stroke-width="3.2" fill="none" />
<path d="M778,394 L809,364" stroke="#000" stroke-width="1.2" fill="none" />
<path d="M809,364 A43 43 0 0 1 820.7,394" stroke="#e2e2e2" stroke-width="1" fill="none" />
<line x1="862.5" y1="229.5" x2="862.5" y2="393.5" stroke="#e2e2e2" stroke-width="1" stroke-linecap="butt"/>
<line x1="873.6" y1="229.5" x2="873.6" y2="381.5" stroke="#e2e2e2" stroke-width="1" stroke-linecap="butt"/>
<rect x="863.8" y="229.5" width="8.5" height="164.5" fill="#b4b4b4"/>
<rect x="866.3" y="394" width="6.1" height="35.8" fill="#b4b4b4"/>
<line x1="865.8" y1="400.3" x2="865.8" y2="430" stroke="#e2e2e2" stroke-width="1" stroke-linecap="butt"/>
<line x1="873.3" y1="229.5" x2="1023.4" y2="229.5" stroke="#e2e2e2" stroke-width="1" stroke-linecap="butt"/>
<rect x="871.8" y="423.4" width="104.2" height="6.4" fill="#b4b4b4"/>
<line x1="873.3" y1="423.4" x2="963.3" y2="423.4" stroke="#e2e2e2" stroke-width="1" stroke-linecap="butt"/>
<line x1="862.8" y1="430.5" x2="976" y2="430.5" stroke="#e2e2e2" stroke-width="1" stroke-linecap="butt"/>
<rect x="873.6" y="381.7" width="89.7" height="41.7" fill="#000" stroke="#e2e2e2" stroke-width="1"/>
<rect x="873.6" y="382.6" width="43.4" height="3.3" fill="#000" stroke="#e2e2e2" stroke-width="1"/>
<rect x="916" y="384.5" width="46.5" height="2.7" fill="#000" stroke="#e2e2e2" stroke-width="1"/>
<line x1="873.6" y1="405.7" x2="963.3" y2="405.7" stroke="#e2e2e2" stroke-width="1.6" stroke-linecap="butt"/>
<line x1="888.5" y1="392.5" x2="888.5" y2="419" stroke="#ececec" stroke-width="1.3" stroke-linecap="butt"/>
<line x1="890.5" y1="392.5" x2="890.5" y2="419" stroke="#ececec" stroke-width="1.3" stroke-linecap="butt"/>
<line x1="893.5" y1="392.5" x2="893.5" y2="419" stroke="#ececec" stroke-width="1.3" stroke-linecap="butt"/>
<line x1="895.5" y1="392.5" x2="895.5" y2="419" stroke="#ececec" stroke-width="1.3" stroke-linecap="butt"/>
<line x1="898.5" y1="392.5" x2="898.5" y2="419" stroke="#ececec" stroke-width="1.3" stroke-linecap="butt"/>
<line x1="902.5" y1="392.5" x2="902.5" y2="419" stroke="#ececec" stroke-width="1.3" stroke-linecap="butt"/>
<line x1="906.5" y1="392.5" x2="906.5" y2="419" stroke="#ececec" stroke-width="1.3" stroke-linecap="butt"/>
<line x1="910.5" y1="392.5" x2="910.5" y2="419" stroke="#ececec" stroke-width="1.3" stroke-linecap="butt"/>
<line x1="918.5" y1="392.5" x2="918.5" y2="419" stroke="#ececec" stroke-width="1.3" stroke-linecap="butt"/>
<line x1="921.5" y1="392.5" x2="921.5" y2="419" stroke="#ececec" stroke-width="1.3" stroke-linecap="butt"/>
<line x1="923.5" y1="392.5" x2="923.5" y2="419" stroke="#ececec" stroke-width="1.3" stroke-linecap="butt"/>
<line x1="930.5" y1="392.5" x2="930.5" y2="419" stroke="#ececec" stroke-width="1.3" stroke-linecap="butt"/>
<line x1="933.5" y1="392.5" x2="933.5" y2="419" stroke="#ececec" stroke-width="1.3" stroke-linecap="butt"/>
<line x1="937.5" y1="392.5" x2="937.5" y2="419" stroke="#ececec" stroke-width="1.3" stroke-linecap="butt"/>
<line x1="941.5" y1="392.5" x2="941.5" y2="419" stroke="#ececec" stroke-width="1.3" stroke-linecap="butt"/>
<line x1="947.5" y1="392.5" x2="947.5" y2="419" stroke="#ececec" stroke-width="1.3" stroke-linecap="butt"/>
<line x1="951.5" y1="392.5" x2="951.5" y2="419" stroke="#ececec" stroke-width="1.3" stroke-linecap="butt"/>
<rect x="963.3" y="381.4" width="7.3" height="48.4" fill="#b4b4b4" stroke="#e2e2e2" stroke-width="1"/>
<path d="M976,422 A42 42 0 0 1 1018,380" stroke="#e2e2e2" stroke-width="1" fill="none" />
<rect x="1017.8" y="379.8" width="2.4" height="43.2" fill="#000" stroke="#e2e2e2" stroke-width="0.8"/>
<rect x="1019.4" y="423.4" width="4.8" height="6.4" fill="#b4b4b4" stroke="#e2e2e2" stroke-width="0.8"/>
<rect x="1023.4" y="229.5" width="8.7" height="204.2" fill="#000" stroke="#e2e2e2" stroke-width="1"/>
<rect x="1025.3" y="226" width="5.2" height="206.5" fill="#b4b4b4"/>
<rect x="876.3" y="231.3" width="27.1" height="27.3" fill="#000" stroke="#e2e2e2" stroke-width="1.2" rx="2"/>
<rect x="989.4" y="231.3" width="26.6" height="27.3" fill="#000" stroke="#e2e2e2" stroke-width="1.2" rx="2"/>
<rect x="907" y="231.3" width="78.7" height="109.7" fill="#000" stroke="#e2e2e2" stroke-width="1"/>
<line x1="907" y1="252.5" x2="985.7" y2="252.5" stroke="#e2e2e2" stroke-width="1" stroke-linecap="butt"/>
<rect x="917.4" y="235" width="27.2" height="17.5" fill="none" stroke="#e2e2e2" stroke-width="1" rx="2"/>
<rect x="947.7" y="235" width="27.1" height="17.5" fill="none" stroke="#e2e2e2" stroke-width="1" rx="2"/>
<path d="M971,253 L984,260 L973,264 Z" stroke="#e2e2e2" stroke-width="1" fill="#000" />
<rect x="1032.6" y="229.2" width="171.9" height="33.6" fill="#000" stroke="#e2e2e2" stroke-width="1"/>
<line x1="1032.6" y1="245.4" x2="1204.5" y2="245.4" stroke="#e2e2e2" stroke-width="1" stroke-linecap="butt"/>
<line x1="1043.5" y1="232" x2="1043.5" y2="258" stroke="#ececec" stroke-width="1.3" stroke-linecap="butt"/>
<line x1="1044.5" y1="232" x2="1044.5" y2="258" stroke="#ececec" stroke-width="1.3" stroke-linecap="butt"/>
<line x1="1047.5" y1="232" x2="1047.5" y2="258" stroke="#ececec" stroke-width="1.3" stroke-linecap="butt"/>
<line x1="1052.5" y1="232" x2="1052.5" y2="258" stroke="#ececec" stroke-width="1.3" stroke-linecap="butt"/>
<line x1="1057.5" y1="232" x2="1057.5" y2="258" stroke="#ececec" stroke-width="1.3" stroke-linecap="butt"/>
<line x1="1063.5" y1="232" x2="1063.5" y2="258" stroke="#ececec" stroke-width="1.3" stroke-linecap="butt"/>
<line x1="1065.5" y1="232" x2="1065.5" y2="258" stroke="#ececec" stroke-width="1.3" stroke-linecap="butt"/>
<line x1="1068.5" y1="232" x2="1068.5" y2="258" stroke="#ececec" stroke-width="1.3" stroke-linecap="butt"/>
<line x1="1075.5" y1="232" x2="1075.5" y2="258" stroke="#ececec" stroke-width="1.3" stroke-linecap="butt"/>
<line x1="1077.5" y1="232" x2="1077.5" y2="258" stroke="#ececec" stroke-width="1.3" stroke-linecap="butt"/>
<line x1="1081.5" y1="232" x2="1081.5" y2="258" stroke="#ececec" stroke-width="1.3" stroke-linecap="butt"/>
<line x1="1083.5" y1="232" x2="1083.5" y2="258" stroke="#ececec" stroke-width="1.3" stroke-linecap="butt"/>
<line x1="1087.5" y1="232" x2="1087.5" y2="258" stroke="#ececec" stroke-width="1.3" stroke-linecap="butt"/>
<line x1="1092.5" y1="232" x2="1092.5" y2="258" stroke="#ececec" stroke-width="1.3" stroke-linecap="butt"/>
<line x1="1097.5" y1="232" x2="1097.5" y2="258" stroke="#ececec" stroke-width="1.3" stroke-linecap="butt"/>
<line x1="1103.5" y1="232" x2="1103.5" y2="258" stroke="#ececec" stroke-width="1.3" stroke-linecap="butt"/>
<line x1="1105.5" y1="232" x2="1105.5" y2="258" stroke="#ececec" stroke-width="1.3" stroke-linecap="butt"/>
<line x1="1107.5" y1="232" x2="1107.5" y2="258" stroke="#ececec" stroke-width="1.3" stroke-linecap="butt"/>
<line x1="1111.5" y1="232" x2="1111.5" y2="258" stroke="#ececec" stroke-width="1.3" stroke-linecap="butt"/>
<line x1="1116.5" y1="232" x2="1116.5" y2="258" stroke="#ececec" stroke-width="1.3" stroke-linecap="butt"/>
<line x1="1120.5" y1="232" x2="1120.5" y2="258" stroke="#ececec" stroke-width="1.3" stroke-linecap="butt"/>
<line x1="1125.5" y1="232" x2="1125.5" y2="258" stroke="#ececec" stroke-width="1.3" stroke-linecap="butt"/>
<line x1="1132.5" y1="232" x2="1132.5" y2="258" stroke="#ececec" stroke-width="1.3" stroke-linecap="butt"/>
<line x1="1135.5" y1="232" x2="1135.5" y2="258" stroke="#ececec" stroke-width="1.3" stroke-linecap="butt"/>
<line x1="1137.5" y1="232" x2="1137.5" y2="258" stroke="#ececec" stroke-width="1.3" stroke-linecap="butt"/>
<line x1="1144.5" y1="232" x2="1144.5" y2="258" stroke="#ececec" stroke-width="1.3" stroke-linecap="butt"/>
<line x1="1146.5" y1="232" x2="1146.5" y2="258" stroke="#ececec" stroke-width="1.3" stroke-linecap="butt"/>
<line x1="1150.5" y1="232" x2="1150.5" y2="258" stroke="#ececec" stroke-width="1.3" stroke-linecap="butt"/>
<line x1="1155.5" y1="232" x2="1155.5" y2="258" stroke="#ececec" stroke-width="1.3" stroke-linecap="butt"/>
<line x1="1160.5" y1="232" x2="1160.5" y2="258" stroke="#ececec" stroke-width="1.3" stroke-linecap="butt"/>
<line x1="1165.5" y1="232" x2="1165.5" y2="258" stroke="#ececec" stroke-width="1.3" stroke-linecap="butt"/>
<line x1="1175.5" y1="232" x2="1175.5" y2="258" stroke="#ececec" stroke-width="1.3" stroke-linecap="butt"/>
<line x1="1178.5" y1="232" x2="1178.5" y2="258" stroke="#ececec" stroke-width="1.3" stroke-linecap="butt"/>
<line x1="1181.5" y1="232" x2="1181.5" y2="258" stroke="#ececec" stroke-width="1.3" stroke-linecap="butt"/>
<line x1="1185.5" y1="232" x2="1185.5" y2="258" stroke="#ececec" stroke-width="1.3" stroke-linecap="butt"/>
<line x1="1189.5" y1="232" x2="1189.5" y2="258" stroke="#ececec" stroke-width="1.3" stroke-linecap="butt"/>
<rect x="1032.6" y="262.4" width="58.4" height="2.8" fill="#000" stroke="#e2e2e2" stroke-width="1"/>
<rect x="1089.5" y="264.5" width="60.5" height="3.7" fill="#000" stroke="#e2e2e2" stroke-width="1"/>
<rect x="1150" y="262.4" width="54.5" height="6.4" fill="#b4b4b4" stroke="#e2e2e2" stroke-width="1"/>
<rect x="1060.4" y="312.6" width="104.2" height="122.5" fill="#000" stroke="#e2e2e2" stroke-width="1.3"/>
<rect x="1084.9" y="330" width="115.4" height="87.2" fill="#000" stroke="#e2e2e2" stroke-width="1.3" rx="1.5"/>
<line x1="1180" y1="330" x2="1180" y2="417.2" stroke="#e2e2e2" stroke-width="1" stroke-linecap="butt"/>
<rect x="1181.2" y="340" width="16.7" height="30.9" fill="none" stroke="#e2e2e2" stroke-width="1" rx="2"/>
<rect x="1181.2" y="374.4" width="16.7" height="32.1" fill="none" stroke="#e2e2e2" stroke-width="1" rx="2"/>
<path d="M1180,403 L1168,407 L1173,417 Z" stroke="#e2e2e2" stroke-width="1" fill="#000" />
<rect x="1173.6" y="299.5" width="27.1" height="26.2" fill="#000" stroke="#e2e2e2" stroke-width="1.2" rx="2"/>
<rect x="1173.6" y="420.3" width="27.1" height="27.2" fill="#000" stroke="#e2e2e2" stroke-width="1.2" rx="2"/>
<path d="M1032.1,434 A43.4 43.4 0 0 1 1075.4,477.3" stroke="#e2e2e2" stroke-width="1" fill="none" />
<rect x="1023.4" y="475.7" width="52" height="2.9" fill="#000" stroke="#e2e2e2" stroke-width="0.8"/>
<rect x="1024" y="475.3" width="7" height="3.7" fill="#b4b4b4" stroke="#e2e2e2" stroke-width="0.8"/>
<rect x="425.6" y="286.2" width="44.1" height="122.2" fill="#000" stroke="#e2e2e2" stroke-width="1.2"/>
<path d="M434.6,286 L435.5,274.5 L459,274.5 L460,286" stroke="#e2e2e2" stroke-width="1" fill="none" />
<line x1="436" y1="275.3" x2="458.5" y2="275.3" stroke="#e2e2e2" stroke-width="2" stroke-linecap="butt"/>
<path d="M434.6,408.6 L435.5,419 L459,419 L460,408.6" stroke="#e2e2e2" stroke-width="1" fill="none" />
<line x1="436" y1="418.5" x2="458.5" y2="418.5" stroke="#e2e2e2" stroke-width="2" stroke-linecap="butt"/>
<path d="M425.6,299.6 L415,300.1 L415,325.1 L425.6,325.6" stroke="#e2e2e2" stroke-width="1" fill="none" />
<line x1="415.2" y1="300.6" x2="415.2" y2="324.6" stroke="#e2e2e2" stroke-width="2" stroke-linecap="butt"/>
<path d="M469.7,299.6 L480.3,300.1 L480.3,325.1 L469.7,325.6" stroke="#e2e2e2" stroke-width="1" fill="none" />
<line x1="480.1" y1="300.6" x2="480.1" y2="324.6" stroke="#e2e2e2" stroke-width="2" stroke-linecap="butt"/>
<path d="M425.6,333.9 L415,334.4 L415,359.8 L425.6,360.3" stroke="#e2e2e2" stroke-width="1" fill="none" />
<line x1="415.2" y1="334.9" x2="415.2" y2="359.3" stroke="#e2e2e2" stroke-width="2" stroke-linecap="butt"/>
<path d="M469.7,333.9 L480.3,334.4 L480.3,359.8 L469.7,360.3" stroke="#e2e2e2" stroke-width="1" fill="none" />
<line x1="480.1" y1="334.9" x2="480.1" y2="359.3" stroke="#e2e2e2" stroke-width="2" stroke-linecap="butt"/>
<path d="M425.6,368.9 L415,369.4 L415,393.8 L425.6,394.3" stroke="#e2e2e2" stroke-width="1" fill="none" />
<line x1="415.2" y1="369.9" x2="415.2" y2="393.3" stroke="#e2e2e2" stroke-width="2" stroke-linecap="butt"/>
<path d="M469.7,368.9 L480.3,369.4 L480.3,393.8 L469.7,394.3" stroke="#e2e2e2" stroke-width="1" fill="none" />
<line x1="480.1" y1="369.9" x2="480.1" y2="393.3" stroke="#e2e2e2" stroke-width="2" stroke-linecap="butt"/>
<rect x="558.2" y="281.9" width="54.5" height="147.3" fill="#000" stroke="#e2e2e2" stroke-width="1.2"/>
<line x1="558.2" y1="375.1" x2="612.7" y2="375.1" stroke="#e2e2e2" stroke-width="1.2" stroke-dasharray="10 4" stroke-linecap="butt"/>
<path d="M558.2,294.3 L548,294.3 Q542,295.3 541.8,301.3 L541.8,311.5 Q542,317.5 548,318.5 L558.2,318.5" stroke="#d6d6d6" stroke-width="1.1" fill="none" />
<path d="M612.7,294.3 L622,294.3 Q628,295.3 628.2,301.3 L628.2,311.5 Q628,317.5 622,318.5 L612.7,318.5" stroke="#d6d6d6" stroke-width="1.1" fill="none" />
<path d="M558.2,335.2 L548,335.2 Q542,336.2 541.8,342.2 L541.8,352.3 Q542,358.3 548,359.3 L558.2,359.3" stroke="#d6d6d6" stroke-width="1.1" fill="none" />
<path d="M612.7,335.2 L622,335.2 Q628,336.2 628.2,342.2 L628.2,352.3 Q628,358.3 622,359.3 L612.7,359.3" stroke="#d6d6d6" stroke-width="1.1" fill="none" />
<rect x="373" y="478.3" width="152" height="158.4" fill="none" stroke="#e2e2e2" stroke-width="1"/>
<rect x="492.5" y="505.4" width="58" height="161.3" fill="#000" stroke="#e2e2e2" stroke-width="1" rx="2"/>
<rect x="421" y="607.8" width="129.5" height="58.9" fill="#000" stroke="#e2e2e2" stroke-width="1" rx="2"/>
<rect x="492.5" y="505.4" width="58" height="14.1" fill="none" stroke="#e2e2e2" stroke-width="1" rx="2"/>
<line x1="536.7" y1="519.5" x2="536.7" y2="651.4" stroke="#e2e2e2" stroke-width="1" stroke-linecap="butt"/>
<line x1="492.5" y1="564.3" x2="550.5" y2="564.3" stroke="#e2e2e2" stroke-width="1" stroke-linecap="butt"/>
<line x1="492.5" y1="607.8" x2="550.5" y2="607.8" stroke="#e2e2e2" stroke-width="1" stroke-linecap="butt"/>
<line x1="492.5" y1="519.5" x2="492.5" y2="666.7" stroke="#e2e2e2" stroke-width="1" stroke-linecap="butt"/>
<rect x="441.6" y="651.4" width="108.9" height="15.3" fill="none" stroke="#e2e2e2" stroke-width="1" rx="3"/>
<line x1="492.5" y1="651.4" x2="492.5" y2="666.7" stroke="#e2e2e2" stroke-width="1" stroke-linecap="butt"/>
<path d="M477.2,563.6 L477.2,565.5 L477.0,566.7 L476.8,567.8 L476.5,568.8 L476.1,569.7 L475.6,570.5 L475.1,571.3 L474.4,572.0 L473.7,572.8 L472.9,573.4 L472.0,574.1 L471.0,574.7 L469.9,575.3 L468.8,575.8 L467.6,576.3 L466.2,576.8 L464.8,577.2 L463.3,577.6 L461.8,578.0 L460.1,578.3 L458.3,578.7 L456.5,578.9 L454.5,579.2 L452.4,579.4 L450.3,579.6 L447.9,579.7 L445.4,579.9 L442.6,579.9 L439.4,580.0 L434.6,580.0 L429.8,580.0 L426.6,579.9 L423.8,579.9 L421.3,579.7 L418.9,579.6 L416.8,579.4 L414.7,579.2 L412.7,578.9 L410.9,578.7 L409.1,578.3 L407.4,578.0 L405.9,577.6 L404.4,577.2 L403.0,576.8 L401.6,576.3 L400.4,575.8 L399.3,575.3 L398.2,574.7 L397.2,574.1 L396.3,573.4 L395.5,572.8 L394.8,572.0 L394.1,571.3 L393.6,570.5 L393.1,569.7 L392.7,568.8 L392.4,567.8 L392.2,566.7 L392.0,565.5 L392.0,563.7 L392.0,561.8 L392.2,560.6 L392.4,559.5 L392.7,558.5 L393.1,557.6 L393.6,556.8 L394.1,556.0 L394.8,555.3 L395.5,554.5 L396.3,553.9 L397.2,553.2 L398.2,552.6 L399.3,552.0 L400.4,551.5 L401.6,551.0 L403.0,550.5 L404.4,550.1 L405.9,549.7 L407.4,549.3 L409.1,549.0 L410.9,548.6 L412.7,548.4 L414.7,548.1 L416.8,547.9 L418.9,547.7 L421.3,547.6 L423.8,547.4 L426.6,547.4 L429.8,547.3 L434.6,547.3 L439.4,547.3 L442.6,547.4 L445.4,547.4 L447.9,547.6 L450.3,547.7 L452.4,547.9 L454.5,548.1 L456.5,548.4 L458.3,548.6 L460.1,549.0 L461.8,549.3 L463.3,549.7 L464.8,550.1 L466.2,550.5 L467.6,551.0 L468.8,551.5 L469.9,552.0 L471.0,552.6 L472.0,553.2 L472.9,553.9 L473.7,554.5 L474.4,555.3 L475.1,556.0 L475.6,556.8 L476.1,557.6 L476.5,558.5 L476.8,559.5 L477.0,560.6 L477.2,561.8 Z" stroke="#e2e2e2" stroke-width="1" fill="#000" />
<circle cx="439.9" cy="477.9" r="13.6" stroke="#e2e2e2" stroke-width="1" fill="#000"/>
<circle cx="440" cy="477.7" r="0.8" stroke="#e2e2e2" stroke-width="0.6" fill="none"/>
<path d="M378.7,507.7 L372.5,507 Q369,494 370.5,484 Q374,474 388,470 Q400,466.5 410.5,468.5 Q416,471 419.5,478 L423,486 L418,489 L413,481 Q407,474 398,476 Q388,479 381,485 Q379.5,494 378.7,507.7 Z" stroke="#e2e2e2" stroke-width="1" fill="#000" />
<path d="M380.4,493.2 Q390,483 403.3,480.5 Q411,482 416.1,488.1 L423.3,502.6 Q424,505 421,507 L392,523 Q388,524 386,521 L379.5,504.3 Z" stroke="#e2e2e2" stroke-width="1" fill="#000" />
<line x1="385.5" y1="520.4" x2="423.7" y2="507.7" stroke="#e2e2e2" stroke-width="1.6" stroke-linecap="butt"/>
<circle cx="262" cy="280.8" r="28" stroke="#e2e2e2" stroke-width="1" fill="#000"/>
<line x1="262" y1="252" x2="262" y2="310" stroke="#e2e2e2" stroke-width="1.3" stroke-dasharray="17 4.5" stroke-linecap="butt"/>
<g transform="translate(225.7,244) rotate(-45)"><rect x="-12.5" y="-12.5" width="25" height="25" rx="9.5" stroke="#dcdcdc" stroke-width="1.1" fill="#000"/><path d="M-15,-3 Q-15,-16 -2,-16.5 Q12,-16.5 15,-4" stroke="#d8d8d8" stroke-width="1.1" fill="none"/><path d="M-12.5,-4 Q-12.5,-13.8 -2,-14 Q10,-14 12.5,-4" stroke="#d8d8d8" stroke-width="1.1" fill="none"/><path d="M-10,-10 L-17,-17 M10,-10 L17,-17 M-9.5,9.5 L-16,16 M9.5,9.5 L16,16" stroke="#dcdcdc" stroke-width="1.1" fill="none"/></g>
<g transform="translate(287.7,238) rotate(31)"><rect x="-12.5" y="-12.5" width="25" height="25" rx="9.5" stroke="#dcdcdc" stroke-width="1.1" fill="#000"/><path d="M-15,-3 Q-15,-16 -2,-16.5 Q12,-16.5 15,-4" stroke="#d8d8d8" stroke-width="1.1" fill="none"/><path d="M-12.5,-4 Q-12.5,-13.8 -2,-14 Q10,-14 12.5,-4" stroke="#d8d8d8" stroke-width="1.1" fill="none"/><path d="M-10,-10 L-17,-17 M10,-10 L17,-17 M-9.5,9.5 L-16,16 M9.5,9.5 L16,16" stroke="#dcdcdc" stroke-width="1.1" fill="none"/></g>
<g transform="translate(212,298.4) rotate(250)"><rect x="-12.5" y="-12.5" width="25" height="25" rx="9.5" stroke="#dcdcdc" stroke-width="1.1" fill="#000"/><path d="M-15,-3 Q-15,-16 -2,-16.5 Q12,-16.5 15,-4" stroke="#d8d8d8" stroke-width="1.1" fill="none"/><path d="M-12.5,-4 Q-12.5,-13.8 -2,-14 Q10,-14 12.5,-4" stroke="#d8d8d8" stroke-width="1.1" fill="none"/><path d="M-10,-10 L-17,-17 M10,-10 L17,-17 M-9.5,9.5 L-16,16 M9.5,9.5 L16,16" stroke="#dcdcdc" stroke-width="1.1" fill="none"/></g>
<g transform="translate(278.4,334) rotate(163)"><rect x="-12.5" y="-12.5" width="25" height="25" rx="9.5" stroke="#dcdcdc" stroke-width="1.1" fill="#000"/><path d="M-15,-3 Q-15,-16 -2,-16.5 Q12,-16.5 15,-4" stroke="#d8d8d8" stroke-width="1.1" fill="none"/><path d="M-12.5,-4 Q-12.5,-13.8 -2,-14 Q10,-14 12.5,-4" stroke="#d8d8d8" stroke-width="1.1" fill="none"/><path d="M-10,-10 L-17,-17 M10,-10 L17,-17 M-9.5,9.5 L-16,16 M9.5,9.5 L16,16" stroke="#dcdcdc" stroke-width="1.1" fill="none"/></g>
<rect x="275.9" y="502.6" width="46.5" height="43.4" fill="#000" stroke="#e2e2e2" stroke-width="1.2" rx="1.5"/>
<path d="M282,502.6 V509.8 H317 Q318,509.8 318,511 V542 Q318,543 317,543 H306 Q304.9,543 304.9,542 V509.8" stroke="#e2e2e2" stroke-width="1" fill="none" />
<rect x="274.1" y="601.4" width="47.4" height="43.5" fill="#000" stroke="#e2e2e2" stroke-width="1.2" rx="1.5"/>
<path d="M280.8,644.9 V639 Q280.8,638 282,638 H304.3 V606 Q304.3,604.5 306,604.5 H314.5 Q316.1,604.5 316.1,606 V644.9" stroke="#e2e2e2" stroke-width="1" fill="none" />
<rect x="276.7" y="561" width="43.4" height="26.3" fill="#000" stroke="#d0d0d0" stroke-width="1" rx="10"/>
</svg>
</body></html>
